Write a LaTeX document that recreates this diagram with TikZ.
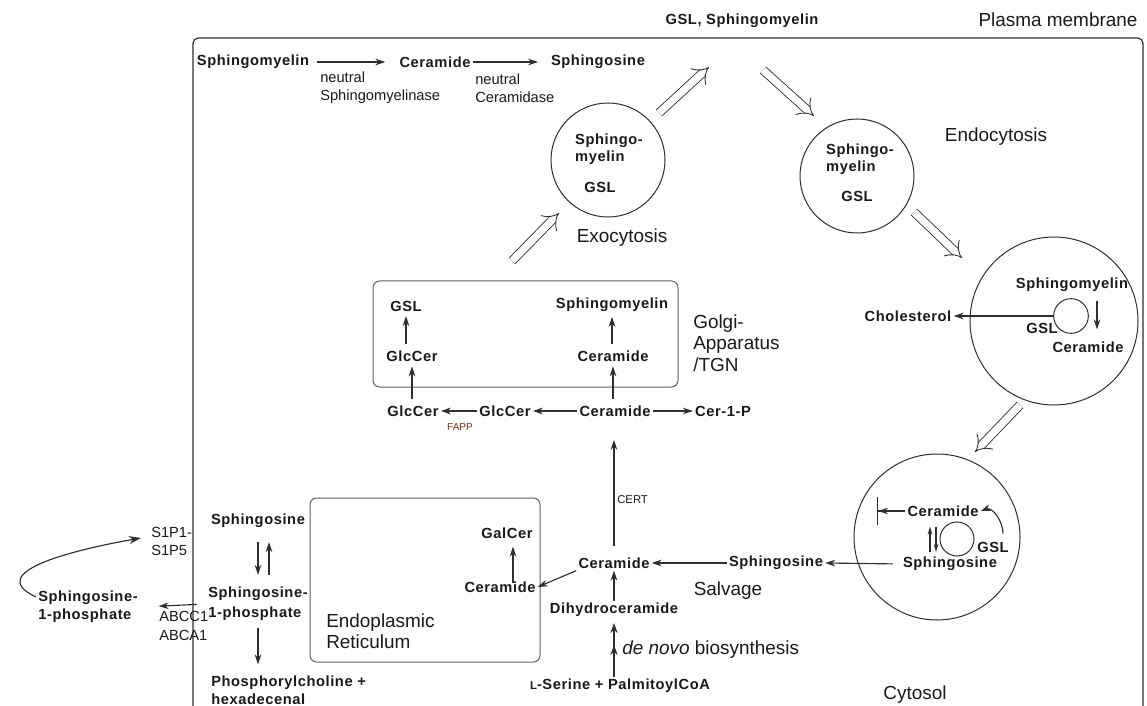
\documentclass[tikz,border=0pt]{standalone}
\usepackage{fontspec}
\setmainfont{Liberation Sans}
\newfontfamily\molfont[LetterSpace=4]{Liberation Sans}
\usetikzlibrary{arrows.meta,calc}
\definecolor{txt}{gray}{0.1}
\definecolor{ln}{gray}{0.18}
\definecolor{box}{gray}{0.38}
\definecolor{fapp}{RGB}{105,45,25}

\begin{document}
\begin{tikzpicture}
    [x=0.75pt,y=0.75pt,
     every node/.style={text=txt},
     mol/.style={font=\fontsize{11}{13.5}\molfont\bfseries,inner sep=1.5pt},
     enz/.style={font=\fontsize{11}{13.5}\selectfont,inner sep=0pt},
     lbl/.style={font=\fontsize{14.2}{16}\selectfont,inner sep=0pt},
     arr/.style={draw=ln,line width=0.85pt,-{Stealth[length=7.5pt,width=5pt]}},
     vesarr/.style={draw=ln,double,double distance=5.5pt,line width=0.65pt,-{Implies[length=8pt,width=17pt]}},
     vesicle/.style={circle,draw=ln,line width=0.75pt,inner sep=0pt},
     compart/.style={rectangle,rounded corners=5pt,draw=box,line width=0.75pt,inner sep=0pt}]
    \useasboundingbox (0,0) rectangle (1147,-706);
    \draw[ln,line width=0.9pt,rounded corners=4pt] (193,-720) -- (193,-38) -- (1143,-38) -- (1143,-720);
    \node[lbl] (pm) at (1058,-20) {Plasma membrane};
    \node[mol] (topsm) at (742,-21) {GSL, Sphingomyelin};

    \node[mol] (sm1) at (253,-62) {Sphingomyelin};
    \node[mol] (cer1) at (435,-62) {Ceramide};
    \node[mol] (sph1) at (598,-62) {Sphingosine};
    \node[enz,align=left,anchor=west] (nsm) at (320,-88) {neutral\\Sphingomyelinase};
    \node[enz,align=left,anchor=west] (ncd) at (475,-88) {neutral\\Ceramidase};
    \draw[arr,shorten <=4pt,shorten >=9pt] (sm1) -- (cer1);
    \draw[arr,shorten >=8pt] (cer1) -- (sph1);

    \node[vesicle,minimum size=85.5pt] (exo) at (608,-160) {};
    \node[mol,align=left] (exosm) at (609,-149) {Sphingo-\\[-1pt]myelin};
    \node[mol] (exogsl) at (600,-187) {GSL};
    \node[lbl] (exolbl) at (622,-238) {Exocytosis};

    \node[vesicle,minimum size=85.5pt] (endo) at (857,-176) {};
    \node[mol,align=left] (endosm) at (860,-159) {Sphingo-\\[-1pt]myelin};
    \node[mol] (endogsl) at (857,-196) {GSL};
    \node[lbl] (endolbl) at (996,-137) {Endocytosis};

    \coordinate (ex1a) at (512,-261);
    \coordinate (ex1b) at (559,-213);
    \coordinate (ex2a) at (659,-113);
    \coordinate (ex2b) at (709,-67);
    \coordinate (en1a) at (763,-70);
    \coordinate (en1b) at (814,-116);
    \coordinate (en2a) at (914,-212);
    \coordinate (en2b) at (962,-258);
    \coordinate (en3a) at (1020,-405);
    \coordinate (en3b) at (975,-452);
    \draw[vesarr] (ex1a) -- (ex1b);
    \draw[vesarr] (ex2a) -- (ex2b);
    \draw[vesarr] (en1a) -- (en1b);
    \draw[vesarr] (en2a) -- (en2b);
    \draw[vesarr] (en3a) -- (en3b);

    \node[vesicle,minimum size=126pt] (late) at (1054,-321) {};
    \node[vesicle,minimum size=26pt] (latein) at (1071,-316) {};
    \node[mol] (latesm) at (1072,-285) {Sphingomyelin};
    \node[mol] (lategsl) at (1042,-328) {GSL};
    \node[mol] (latecer) at (1088,-347) {Ceramide};
    \node[mol] (chol) at (908,-316) {Cholesterol};
    \draw[arr] (latein.west) -- (chol.east);
    \draw[arr] ($(latesm.south)+(25,-7)$) -- ($(latecer.north)+(9,10)$);

    \node[vesicle,minimum size=124.5pt] (lyso) at (937,-537) {};
    \node[vesicle,minimum size=25.5pt] (lysoin) at (957,-539) {};
    \node[mol] (lysocer) at (943,-511) {Ceramide};
    \node[mol] (lysogsl) at (993,-547) {GSL};
    \node[mol] (lysosph) at (950,-564) {Sphingosine};
    \coordinate (lysobar) at (877,-511);
    \draw[draw=ln,line width=0.85pt,{Bar[width=21pt]Stealth[length=7.5pt,width=5pt]}-] (lysobar) -- (lysocer.west);
    \draw[arr] ($(lysogsl.north)+(10,6)$) to[out=90,in=20] (lysocer.east);
    \draw[arr,-{Stealth[length=6pt,width=3.5pt]}] ($(lysosph.north)+(-20,3)$) -- ($(lysocer.south)+(-13,-8)$);
    \draw[arr,-{Stealth[length=6pt,width=3.5pt]}] ($(lysocer.south)+(-7,-8)$) -- ($(lysosph.north)+(-14,3)$);
    \node[lbl] (cyto) at (915,-695) {Cytosol};

    \node[mol] (salsph) at (776,-563) {Sphingosine};
    \node[mol] (salcer) at (614,-563) {Ceramide};
    \node[lbl] (sallbl) at (728,-591) {Salvage};
    \node[mol] (dhc) at (614,-610) {Dihydroceramide};
    \node[mol] (ser) at (620,-686) {{\fontsize{8.5}{10}\selectfont L}-Serine + PalmitoylCoA};
    \node[lbl,anchor=west] (dnlbl) at (622,-650) {\textit{de novo} biosynthesis};
    \draw[arr,shorten <=6pt] (lysosph.west) -- (salsph.east);
    \draw[arr] (salsph.west) -- (salcer.east);
    \draw[arr] (dhc.north) -- (dhc.north |- salcer.south);
    \draw[draw=ln,line width=0.85pt,-{Stealth[length=7.5pt,width=5.5pt,sep=9pt]Stealth[length=7.5pt,width=5.5pt]},shorten >=3pt] (ser.north -| dhc) -- (dhc.south);

    \node[compart,minimum width=172.5pt,minimum height=123pt] (er) at (425,-580) {};
    \node[lbl,align=left,anchor=west] (erlbl) at (326,-631) {Endoplasmic\\Reticulum};
    \node[mol] (ercer) at (500,-587) {Ceramide};
    \node[mol] (gal) at (507,-533) {GalCer};
    \draw[arr] ($(ercer.north)+(13,-4)$) -- ($(gal.south)+(6,-6)$);
    \draw[arr] (salcer.south west) -- (ercer.east);

    \node[compart,minimum width=228.75pt,minimum height=79.5pt] (golgi) at (525.5,-334) {};
    \node[lbl,align=left,anchor=west] (golgilbl) at (693,-343) {Golgi-\\Apparatus\\/TGN};
    \node[mol] (gsl) at (406,-306) {GSL};
    \node[mol] (glc2) at (412,-356) {GlcCer};
    \node[mol] (gsm) at (612,-305) {Sphingomyelin};
    \node[mol] (gcer2) at (613,-356) {Ceramide};
    \node[mol] (glc1) at (413,-411) {GlcCer};
    \node[mol] (glc0) at (505,-411) {GlcCer};
    \node[mol] (gcer) at (615,-411) {Ceramide};
    \node[mol] (c1p) at (723,-411) {Cer-1-P};
    \node[font=\fontsize{7.5}{9}\selectfont,text=fapp,inner sep=0pt] (fapp) at (460,-427) {FAPP};
    \draw[arr] (gcer) -- (glc0);
    \draw[arr] (glc0) -- (glc1);
    \draw[arr] (gcer) -- (c1p);
    \draw[arr,shorten <=3pt,shorten >=2pt] (glc1.north -| glc2) -- (glc2.south);
    \draw[arr,shorten <=3pt,shorten >=2pt] (glc2.north -| gsl) -- (gsl.south);
    \draw[arr,shorten <=3pt,shorten >=2pt] (gcer.north -| gcer2) -- (gcer2.south);
    \draw[arr,shorten <=3pt,shorten >=2pt] (gcer2.north -| gsm) -- (gsm.south);
    \draw[arr,shorten <=7pt,shorten >=16pt] (salcer.north) -- (salcer.north |- gcer.south);
    \node[font=\fontsize{8.5}{10}\selectfont,inner sep=0pt,anchor=west] (cert) at (617,-500) {CERT};

    \node[mol] (lsph) at (258,-521) {Sphingosine};
    \node[mol,align=left] (lsp1p) at (258,-604) {Sphingosine-\\[1.5pt]1-phosphate};
    \node[mol,align=left,anchor=west] (phos) at (209,-690) {Phosphorylcholine +\\hexadecenal};
    \node[mol,align=left] (s1pout) at (88,-607) {Sphingosine-\\1-phosphate};
    \node[enz,align=left,anchor=west] (abc) at (159,-626) {ABCC1\\[0.5pt]ABCA1};
    \node[enz,align=left,anchor=west] (s1pr) at (151,-541) {S1P1-\\S1P5};
    \draw[arr] ($(lsph.south)+(0,-12)$) -- ($(lsp1p.north)+(0,10)$);
    \draw[arr] ($(lsp1p.north)+(11,10)$) -- ($(lsph.south)+(11,-12)$);
    \draw[arr] ($(lsp1p.south)+(0,-5)$) -- ($(lsp1p.south |- phos.north)+(0,9)$);
    \draw[arr,shorten <=7pt,shorten >=14pt] (lsp1p.west) -- (s1pout.east);
    \draw[arr,-{Stealth[length=9pt,width=6pt]}] ($(s1pout.west)+(0,10)$) to[out=155,in=190,looseness=1.3] ($(s1pr.west)+(-10,3)$);
\end{tikzpicture}
\end{document}
